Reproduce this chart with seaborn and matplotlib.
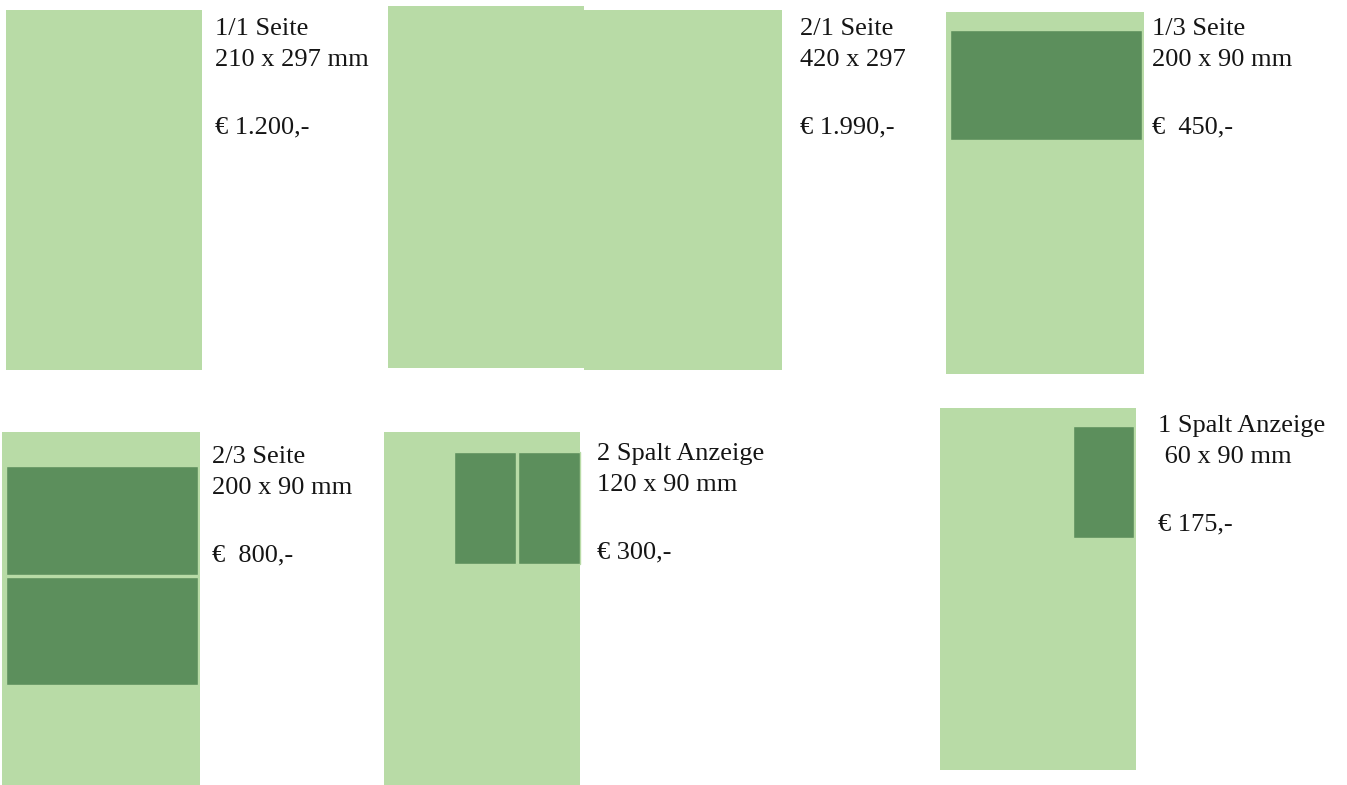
import matplotlib.pyplot as plt
import seaborn as sns

sns.set_theme(style="white")
plt.rcParams['font.family'] = ['Liberation Serif', 'DejaVu Serif']

LIGHT = "#b8dba6"
DARK = "#5c8f5c"

# Seitenflaechen (links, oben, breite, hoehe) in Bildpixeln
page_left = [6, 388, 584, 946, 2, 384, 940]
page_top = [10, 6, 10, 12, 432, 432, 408]
page_w = [196, 196, 198, 198, 198, 196, 196]
page_h = [360, 362, 360, 362, 360, 360, 362]

# Anzeigenflaechen
ad_left = [950, 6, 6, 454, 518, 1073]
ad_top = [30, 466, 577, 452, 452, 426]
ad_w = [192, 192, 192, 62, 62, 61]
ad_h = [110, 109, 108, 112, 112, 112]

# Beschriftungen
titles = ["1/1 Seite", "2/1 Seite", "1/3 Seite", "2/3 Seite", "2 Spalt Anzeige", "1 Spalt Anzeige"]
sizes = ["210 x 297 mm", "420 x 297", "200 x 90 mm", "200 x 90 mm", "120 x 90 mm", " 60 x 90 mm"]
prices = ["€ 1.200,-", "€ 1.990,-", "€  450,-", "€  800,-", "€ 300,-", "€ 175,-"]
label_x = [215, 800, 1152, 212, 597, 1158]
label_y = [35, 35, 35, 463, 460, 432]  # Grundlinie der ersten Zeile

fig = plt.figure(figsize=(13.47, 7.85), dpi=100)
ax = fig.add_axes([0, 0, 1, 1])

ax.bar(page_left, page_h, width=page_w, bottom=page_top, align='edge',
       color=LIGHT, edgecolor='none')
ax.bar(ad_left, ad_h, width=ad_w, bottom=ad_top, align='edge',
       color=DARK, edgecolor=LIGHT, linewidth=1.0)

txt = dict(fontsize=19, color="#151515", va='baseline', ha='left')
for t, s, p, x, y in zip(titles, sizes, prices, label_x, label_y):
    ax.text(x, y, t, **txt)
    ax.text(x, y + 31, s, **txt)
    ax.text(x, y + 98, p, **txt)

ax.set_xlim(0, 1347)
ax.set_ylim(785, 0)
ax.axis('off')

fig.savefig("out.png", dpi=100, facecolor='white')
